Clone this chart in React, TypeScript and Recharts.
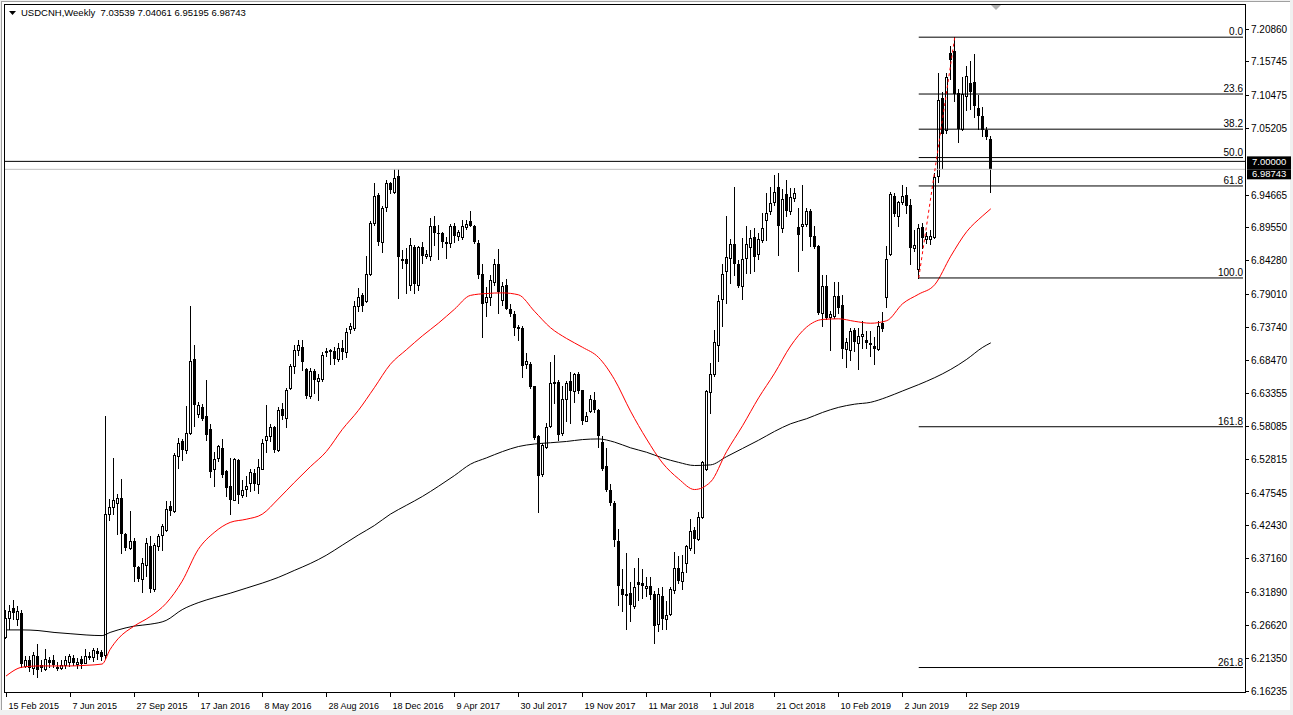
import React from 'react';
import { ComposedChart, Bar, Line, XAxis, YAxis, ReferenceLine } from 'recharts';

// weekly candles [open, high, low, close], first bar = week of 15 Feb 2015
const wk2015 = [
  [6.248, 6.290, 6.246, 6.278], [6.278, 6.299, 6.260, 6.289], [6.294, 6.306, 6.276, 6.286], [6.276, 6.297, 6.266, 6.289],
  [6.286, 6.290, 6.200, 6.205], [6.202, 6.218, 6.200, 6.212], [6.212, 6.218, 6.194, 6.198], [6.198, 6.224, 6.190, 6.220],
  [6.218, 6.236, 6.184, 6.196], [6.203, 6.212, 6.194, 6.199], [6.197, 6.229, 6.195, 6.213], [6.212, 6.216, 6.200, 6.206],
  [6.212, 6.219, 6.200, 6.203], [6.200, 6.208, 6.196, 6.201], [6.198, 6.211, 6.197, 6.203], [6.203, 6.218, 6.199, 6.212],
  [6.208, 6.221, 6.202, 6.217], [6.215, 6.219, 6.203, 6.207], [6.205, 6.214, 6.199, 6.209], [6.213, 6.217, 6.199, 6.205],
  [6.207, 6.229, 6.206, 6.218], [6.218, 6.224, 6.213, 6.215], [6.216, 6.231, 6.210, 6.228], [6.226, 6.231, 6.213, 6.221],
  [6.224, 6.227, 6.212, 6.216], [6.219, 6.597, 6.215, 6.442], [6.443, 6.466, 6.433, 6.454], [6.454, 6.531, 6.442, 6.464],
  [6.460, 6.474, 6.410, 6.468], [6.468, 6.497, 6.381, 6.410], [6.411, 6.413, 6.386, 6.389], [6.389, 6.447, 6.387, 6.400],
  [6.400, 6.405, 6.336, 6.358], [6.358, 6.360, 6.336, 6.340], [6.340, 6.372, 6.319, 6.365], [6.362, 6.404, 6.345, 6.396],
  [6.392, 6.407, 6.319, 6.323], [6.323, 6.397, 6.320, 6.393], [6.392, 6.411, 6.386, 6.407], [6.409, 6.427, 6.386, 6.424],
  [6.417, 6.463, 6.416, 6.450], [6.455, 6.463, 6.440, 6.447], [6.447, 6.538, 6.446, 6.536], [6.534, 6.563, 6.515, 6.555],
  [6.557, 6.561, 6.527, 6.543], [6.543, 6.613, 6.539, 6.570],
];
const wk2016 = [
  [6.570, 6.772, 6.569, 6.685], [6.688, 6.710, 6.581, 6.614], [6.601, 6.619, 6.596, 6.615], [6.611, 6.616, 6.591, 6.593],
  [6.597, 6.654, 6.560, 6.568], [6.576, 6.585, 6.501, 6.508], [6.513, 6.540, 6.487, 6.529], [6.531, 6.552, 6.526, 6.550],
  [6.547, 6.561, 6.501, 6.504], [6.510, 6.512, 6.470, 6.484], [6.486, 6.531, 6.442, 6.465], [6.465, 6.531, 6.464, 6.529],
  [6.527, 6.529, 6.460, 6.473], [6.473, 6.496, 6.469, 6.481], [6.482, 6.503, 6.470, 6.486], [6.491, 6.513, 6.479, 6.508],
  [6.507, 6.513, 6.480, 6.490], [6.489, 6.530, 6.476, 6.517], [6.514, 6.561, 6.513, 6.555], [6.559, 6.615, 6.540, 6.565],
  [6.565, 6.584, 6.557, 6.580], [6.580, 6.581, 6.541, 6.543], [6.543, 6.612, 6.542, 6.606], [6.609, 6.618, 6.592, 6.597],
  [6.594, 6.642, 6.580, 6.638], [6.641, 6.679, 6.640, 6.677], [6.677, 6.710, 6.666, 6.702], [6.701, 6.718, 6.694, 6.710],
  [6.707, 6.718, 6.670, 6.682], [6.671, 6.674, 6.625, 6.629], [6.629, 6.673, 6.625, 6.668], [6.668, 6.671, 6.633, 6.654],
  [6.652, 6.664, 6.623, 6.658], [6.656, 6.699, 6.652, 6.694], [6.699, 6.705, 6.692, 6.700], [6.701, 6.703, 6.680, 6.699],
  [6.700, 6.706, 6.680, 6.688], [6.688, 6.712, 6.684, 6.705], [6.705, 6.718, 6.688, 6.698], [6.698, 6.737, 6.690, 6.730],
  [6.735, 6.744, 6.728, 6.739], [6.737, 6.779, 6.734, 6.772], [6.772, 6.800, 6.763, 6.786], [6.789, 6.792, 6.763, 6.772],
  [6.779, 6.850, 6.777, 6.822], [6.822, 6.905, 6.821, 6.902], [6.902, 6.966, 6.900, 6.946], [6.947, 6.950, 6.868, 6.872],
  [6.872, 6.929, 6.856, 6.926], [6.928, 6.970, 6.921, 6.966], [6.966, 6.967, 6.950, 6.954], [6.951, 6.988, 6.950, 6.974],
];
const wk2017 = [
  [6.977, 6.988, 6.784, 6.849], [6.846, 6.860, 6.831, 6.842], [6.846, 6.863, 6.792, 6.837], [6.805, 6.879, 6.796, 6.868],
  [6.864, 6.868, 6.792, 6.806], [6.805, 6.866, 6.797, 6.864], [6.864, 6.873, 6.840, 6.851], [6.851, 6.860, 6.847, 6.854],
  [6.851, 6.910, 6.844, 6.897], [6.898, 6.913, 6.868, 6.886], [6.887, 6.900, 6.845, 6.885], [6.886, 6.888, 6.865, 6.872],
  [6.872, 6.880, 6.847, 6.870], [6.871, 6.901, 6.865, 6.897], [6.898, 6.902, 6.872, 6.882], [6.882, 6.892, 6.876, 6.889],
  [6.880, 6.907, 6.877, 6.898], [6.896, 6.908, 6.893, 6.901], [6.905, 6.921, 6.897, 6.898], [6.898, 6.899, 6.871, 6.872],
  [6.871, 6.876, 6.815, 6.821], [6.822, 6.838, 6.723, 6.775], [6.777, 6.802, 6.755, 6.786], [6.786, 6.821, 6.773, 6.813],
  [6.810, 6.846, 6.805, 6.837], [6.838, 6.861, 6.760, 6.793], [6.780, 6.810, 6.773, 6.803], [6.805, 6.814, 6.766, 6.767],
  [6.766, 6.775, 6.756, 6.758], [6.758, 6.763, 6.726, 6.737], [6.738, 6.742, 6.718, 6.735], [6.737, 6.739, 6.659, 6.677],
  [6.679, 6.697, 6.673, 6.684], [6.680, 6.682, 6.642, 6.643], [6.644, 6.645, 6.561, 6.563], [6.565, 6.568, 6.445, 6.503],
  [6.505, 6.554, 6.503, 6.552], [6.549, 6.586, 6.547, 6.580], [6.581, 6.682, 6.580, 6.649], [6.649, 6.693, 6.618, 6.651],
  [6.651, 6.655, 6.560, 6.568], [6.570, 6.644, 6.568, 6.624], [6.624, 6.652, 6.589, 6.649], [6.652, 6.667, 6.586, 6.637],
  [6.637, 6.666, 6.619, 6.663], [6.664, 6.667, 6.633, 6.637], [6.638, 6.639, 6.584, 6.589], [6.590, 6.603, 6.589, 6.598],
  [6.605, 6.631, 6.603, 6.624], [6.623, 6.636, 6.603, 6.607], [6.606, 6.608, 6.549, 6.565], [6.556, 6.565, 6.512, 6.513],
];
const wk2018 = [
  [6.519, 6.547, 6.479, 6.481], [6.481, 6.489, 6.457, 6.459], [6.460, 6.463, 6.392, 6.401], [6.400, 6.418, 6.299, 6.328],
  [6.323, 6.355, 6.289, 6.314], [6.315, 6.381, 6.260, 6.312], [6.318, 6.334, 6.273, 6.299], [6.297, 6.357, 6.294, 6.327],
  [6.334, 6.372, 6.307, 6.330], [6.333, 6.356, 6.310, 6.329], [6.326, 6.342, 6.312, 6.329], [6.329, 6.343, 6.308, 6.314],
  [6.315, 6.320, 6.239, 6.265], [6.268, 6.326, 6.257, 6.315], [6.313, 6.327, 6.260, 6.276], [6.277, 6.305, 6.260, 6.282],
  [6.284, 6.327, 6.282, 6.323], [6.322, 6.382, 6.318, 6.357], [6.357, 6.376, 6.333, 6.336], [6.336, 6.378, 6.323, 6.350],
  [6.365, 6.394, 6.350, 6.391], [6.389, 6.435, 6.385, 6.415], [6.417, 6.422, 6.380, 6.402], [6.403, 6.445, 6.401, 6.438],
  [6.438, 6.526, 6.436, 6.524], [6.513, 6.638, 6.512, 6.637], [6.636, 6.681, 6.602, 6.664], [6.664, 6.733, 6.660, 6.714],
  [6.709, 6.789, 6.684, 6.779], [6.782, 6.838, 6.739, 6.822], [6.826, 6.914, 6.776, 6.849], [6.847, 6.877, 6.808, 6.870],
  [6.870, 6.960, 6.821, 6.837], [6.838, 6.844, 6.801, 6.803], [6.803, 6.879, 6.782, 6.846], [6.847, 6.897, 6.823, 6.870],
  [6.864, 6.892, 6.823, 6.879], [6.880, 6.894, 6.826, 6.849], [6.854, 6.886, 6.845, 6.877], [6.876, 6.918, 6.873, 6.895],
  [6.907, 6.950, 6.876, 6.919], [6.921, 6.960, 6.916, 6.934], [6.935, 6.979, 6.931, 6.952], [6.959, 6.981, 6.852, 6.897],
  [6.895, 6.956, 6.889, 6.940], [6.949, 6.971, 6.913, 6.921], [6.921, 6.958, 6.916, 6.943], [6.942, 6.958, 6.938, 6.950],
  [6.896, 6.926, 6.826, 6.884], [6.898, 6.963, 6.860, 6.901], [6.901, 6.926, 6.897, 6.922], [6.922, 6.924, 6.866, 6.881],
];
const wk2019 = [
  [6.882, 6.897, 6.863, 6.865], [6.866, 6.868, 6.759, 6.760], [6.760, 6.821, 6.739, 6.803], [6.803, 6.821, 6.750, 6.752],
  [6.754, 6.763, 6.702, 6.758], [6.755, 6.810, 6.752, 6.787], [6.787, 6.810, 6.760, 6.768], [6.773, 6.789, 6.689, 6.703],
  [6.703, 6.720, 6.675, 6.715], [6.701, 6.737, 6.686, 6.731], [6.733, 6.737, 6.700, 6.714], [6.713, 6.737, 6.672, 6.724],
  [6.724, 6.747, 6.705, 6.727], [6.718, 6.731, 6.705, 6.712], [6.712, 6.731, 6.692, 6.709], [6.708, 6.723, 6.679, 6.703],
  [6.703, 6.747, 6.702, 6.740], [6.744, 6.761, 6.731, 6.735], [6.786, 6.866, 6.770, 6.845], [6.854, 6.951, 6.852, 6.949],
  [6.946, 6.950, 6.913, 6.916], [6.914, 6.937, 6.898, 6.935], [6.935, 6.963, 6.933, 6.945], [6.947, 6.960, 6.919, 6.930],
  [6.931, 6.940, 6.837, 6.863], [6.863, 6.892, 6.858, 6.868], [6.830, 6.901, 6.8156, 6.895], [6.896, 6.902, 6.863, 6.879],
  [6.877, 6.888, 6.871, 6.882], [6.877, 6.892, 6.870, 6.882], [6.880, 6.982, 6.879, 6.976], [6.977, 7.140, 6.968, 7.097],
  [7.100, 7.110, 6.990, 7.044], [7.049, 7.139, 7.045, 7.133], [7.172, 7.182, 7.130, 7.160], [7.175, 7.1964, 7.095, 7.107],
  [7.108, 7.114, 7.030, 7.051], [7.051, 7.133, 7.050, 7.107], [7.103, 7.151, 7.081, 7.135], [7.124, 7.158, 7.083, 7.110],
  [7.125, 7.170, 7.070, 7.087], [7.084, 7.105, 7.051, 7.071], [7.072, 7.086, 7.040, 7.050], [7.050, 7.054, 7.035, 7.039],
  [7.03539, 7.04061, 6.95195, 6.98743],
];

// moving averages: [bar index, value]
const maRed = [
  [0, 6.186], [4, 6.200], [8, 6.202], [12, 6.202], [16, 6.202], [20, 6.203], [24, 6.205], [26, 6.228], [28, 6.245],
  [32, 6.265], [36, 6.280], [40, 6.301], [44, 6.336], [48, 6.386], [52, 6.413], [56, 6.429], [60, 6.434], [64, 6.442],
  [68, 6.466], [72, 6.492], [76, 6.517], [80, 6.541], [84, 6.576], [88, 6.606], [92, 6.642], [96, 6.679], [100, 6.702],
  [104, 6.724], [108, 6.744], [112, 6.766], [116, 6.788], [120, 6.791], [124, 6.792], [128, 6.789], [132, 6.763],
  [136, 6.737], [140, 6.720], [144, 6.706], [148, 6.690], [152, 6.655], [156, 6.605], [160, 6.561], [164, 6.523],
  [168, 6.498], [172, 6.481], [176, 6.493], [180, 6.541], [184, 6.582], [188, 6.626], [192, 6.665], [196, 6.708],
  [200, 6.738], [204, 6.750], [208, 6.751], [212, 6.747], [216, 6.744], [220, 6.748], [224, 6.775], [228, 6.790],
  [232, 6.805], [236, 6.850], [240, 6.889], [244, 6.914], [246, 6.925],
];
const maBlack = [
  [0, 6.259], [4, 6.259], [8, 6.258], [12, 6.255], [16, 6.253], [20, 6.251], [24, 6.250], [26, 6.255], [28, 6.259],
  [32, 6.265], [36, 6.268], [40, 6.274], [44, 6.291], [48, 6.302], [52, 6.310], [56, 6.317], [60, 6.325], [64, 6.333],
  [68, 6.342], [72, 6.353], [76, 6.364], [80, 6.377], [84, 6.393], [88, 6.409], [92, 6.424], [96, 6.442], [100, 6.456],
  [104, 6.470], [108, 6.486], [112, 6.503], [116, 6.521], [120, 6.531], [124, 6.541], [128, 6.549], [132, 6.553],
  [136, 6.555], [140, 6.557], [144, 6.560], [148, 6.561], [152, 6.556], [156, 6.547], [160, 6.540], [164, 6.531],
  [168, 6.524], [172, 6.519], [176, 6.520], [180, 6.533], [184, 6.546], [188, 6.559], [192, 6.573], [196, 6.585],
  [200, 6.593], [204, 6.603], [208, 6.611], [212, 6.616], [216, 6.619], [220, 6.627], [224, 6.637], [228, 6.647],
  [232, 6.658], [236, 6.671], [240, 6.687], [244, 6.706], [246, 6.713],
];

const dateLabels = [
  '15 Feb 2015', '7 Jun 2015', '27 Sep 2015', '17 Jan 2016', '8 May 2016', '28 Aug 2016', '18 Dec 2016', '9 Apr 2017',
  '30 Jul 2017', '19 Nov 2017', '11 Mar 2018', '1 Jul 2018', '21 Oct 2018', '10 Feb 2019', '2 Jun 2019', '22 Sep 2019',
];
const LABEL_EVERY = 16;
const SHIFT_WEEKS = 63; // empty space right of the last bar

const priceTicks = [
  7.2086, 7.15745, 7.10475, 7.05205, 6.94665, 6.8955, 6.8428, 6.7901, 6.7374, 6.6847, 6.63355,
  6.58085, 6.52815, 6.47545, 6.4243, 6.3716, 6.3189, 6.2662, 6.2135, 6.16235,
];
const levelLine = 7.0;
const bidLine = 6.98743;

const fibNames = ['0.0', '23.6', '38.2', '50.0', '61.8', '100.0', '161.8', '261.8'];
const fibValues = [7.1964, 7.1065, 7.0509, 7.006, 6.9611, 6.8156, 6.5803, 6.1995];
const fibFrom = 228;
const fibTrend = [[228, 6.8156], [237, 7.1964]];

const candles = [...wk2015, ...wk2016, ...wk2017, ...wk2018, ...wk2019];
const rows: any[] = [];
for (let i = 0; i < candles.length + SHIFT_WEEKS; i++) {
  const c = candles[i];
  rows.push(c ? { i, o: c[0], h: c[1], l: c[2], c: c[3], range: [c[2], c[1]] } : { i });
}
maRed.forEach(([i, v]) => (rows[i].maRed = v));
maBlack.forEach(([i, v]) => (rows[i].maBlack = v));
const lastIndex = rows.length - 1;

const FONT = 'Liberation Sans, Arial, sans-serif';

const Candle = (props: any) => {
  const { x, y, width, height, payload } = props;
  if (!payload || payload.o == null || !isFinite(y) || !isFinite(height)) return null;
  const { o, h, l, c } = payload;
  const top = Math.min(y, y + height);
  const k = h - l > 0 ? Math.abs(height) / (h - l) : 0;
  const py = (p: number) => top + (h - p) * k;
  const cx = Math.round(x + width / 2 - 0.5) + 0.5;
  const bTop = Math.round(py(Math.max(o, c)));
  const bBot = Math.round(py(Math.min(o, c)));
  const bull = c >= o;
  return (
    <g shapeRendering="crispEdges">
      <line x1={cx} x2={cx} y1={Math.round(py(h))} y2={Math.round(py(l)) + 1} stroke="#000" strokeWidth={1} />
      {bull ? (
        <rect x={cx - 1} y={bTop + 0.5} width={2} height={Math.max(bBot - bTop, 1)} fill="#fff" stroke="#000" strokeWidth={1} />
      ) : (
        <rect x={cx - 1.5} y={bTop} width={3} height={Math.max(bBot - bTop, 1)} fill="#000" />
      )}
    </g>
  );
};

const XTick = (p: any) => {
  const idx = Number(p.payload.value);
  const label = idx % LABEL_EVERY === 0 ? dateLabels[idx / LABEL_EVERY] : undefined;
  if (!label) return <g />;
  const x = Math.round(p.x - 0.5) + 0.5;
  return (
    <g>
      <line x1={x} x2={x} y1={p.y} y2={p.y + 5} stroke="#000" shapeRendering="crispEdges" />
      <text x={x + 2} y={p.y + 17} fontSize={9} fontFamily={FONT} fill="#000">{label}</text>
    </g>
  );
};

const YTick = (p: any) => {
  const v = Number(p.payload.value);
  const y = p.y;
  const x = p.x;
  const txt = v.toFixed(5);
  if (v === levelLine || v === bidLine) {
    const first = v === levelLine;
    const top = first ? y - 5 : y;
    const bottom = first ? y + 8 : y + 10;
    return (
      <g>
        <rect x={x + 2} y={top} width={44} height={bottom - top} fill="#000" />
        <text x={x + 7} y={first ? y + 4 : y + 7.5} fontSize={9.5} fontFamily={FONT} fill="#fff">{txt}</text>
      </g>
    );
  }
  const ly = Math.round(y - 0.5) + 0.5;
  return (
    <g>
      <line x1={x} x2={x + 4} y1={ly} y2={ly} stroke="#000" shapeRendering="crispEdges" />
      <text x={x + 6} y={y + 3.5} fontSize={10} fontFamily={FONT} fill="#000">{txt}</text>
    </g>
  );
};

const fibLabel = (name: string) => (p: any) => {
  const vb = p.viewBox || {};
  const xr = vb.x2 != null ? Math.max(vb.x1, vb.x2) : (vb.x || 0) + (vb.width || 0);
  const yy = vb.y1 != null ? vb.y1 : vb.y;
  return (
    <text x={xr} y={yy - 2} textAnchor="end" fontSize={10} fontFamily={FONT} fill="#000">{name}</text>
  );
};

export default function App() {
  return (
    <div style={{ position: 'fixed', left: 0, top: 0, width: 1293, height: 715, background: '#f0f0f0', overflow: 'hidden' }}>
      <div style={{ position: 'absolute', left: 1, top: 1, width: 1289, height: 709, background: '#fff', borderTop: '1px solid #a0a0a0', borderLeft: '1px solid #a0a0a0', boxSizing: 'border-box' }} />
      <div style={{ position: 'absolute', left: 0, top: 0 }}>
        <ComposedChart width={1293} height={715} data={rows} margin={{ top: 5, right: 0, bottom: 0, left: 4 }}>
          <XAxis dataKey="i" type="category" interval={0} height={23} axisLine={false} tickLine={false} tickSize={0} tickMargin={0} tick={(p: any) => <XTick {...p} />} />
          <YAxis orientation="right" type="number" width={48} domain={[6.1608, 7.2473]} allowDataOverflow ticks={[...priceTicks, levelLine, bidLine]} interval={0} axisLine={false} tickLine={false} tickSize={0} tickMargin={0} tick={(p: any) => <YTick {...p} />} />
          <ReferenceLine y={bidLine} stroke="#c0c0c0" strokeWidth={1} />
          <ReferenceLine y={levelLine} stroke="#000" strokeWidth={1} />
          <Bar dataKey="range" shape={(p: any) => <Candle {...p} />} isAnimationActive={false} />
          <Line dataKey="maBlack" type="monotone" stroke="#000" strokeWidth={1} dot={false} activeDot={false} connectNulls isAnimationActive={false} />
          <Line dataKey="maRed" type="monotone" stroke="#ff0000" strokeWidth={1} dot={false} activeDot={false} connectNulls isAnimationActive={false} />
          {fibValues.map((v, k) => (
            <ReferenceLine key={fibNames[k]} segment={[{ x: fibFrom, y: v }, { x: lastIndex, y: v }]} stroke="#000" strokeWidth={1} label={fibLabel(fibNames[k])} />
          ))}
          <ReferenceLine segment={[{ x: fibTrend[0][0], y: fibTrend[0][1] }, { x: fibTrend[1][0], y: fibTrend[1][1] }]} stroke="#ff0000" strokeWidth={1} strokeDasharray="3 3" />
        </ComposedChart>
      </div>
      <div style={{ position: 'absolute', left: 4, top: 4, width: 1242, height: 689, border: '1px solid #000', boxSizing: 'border-box', pointerEvents: 'none' }} />
      <svg style={{ position: 'absolute', left: 0, top: 0 }} width={1293} height={20}>
        <polygon points="9,11 16,11 12.5,15" fill="#000" />
        <polygon points="991,5 1001,5 996,10" fill="#b0b0b0" />
      </svg>
      <div style={{ position: 'absolute', left: 21, top: 7, fontFamily: FONT, fontSize: 9.5, color: '#000', whiteSpace: 'pre', lineHeight: '11px' }}>
        {'USDCNH,Weekly  7.03539 7.04061 6.95195 6.98743'}
      </div>
    </div>
  );
}
